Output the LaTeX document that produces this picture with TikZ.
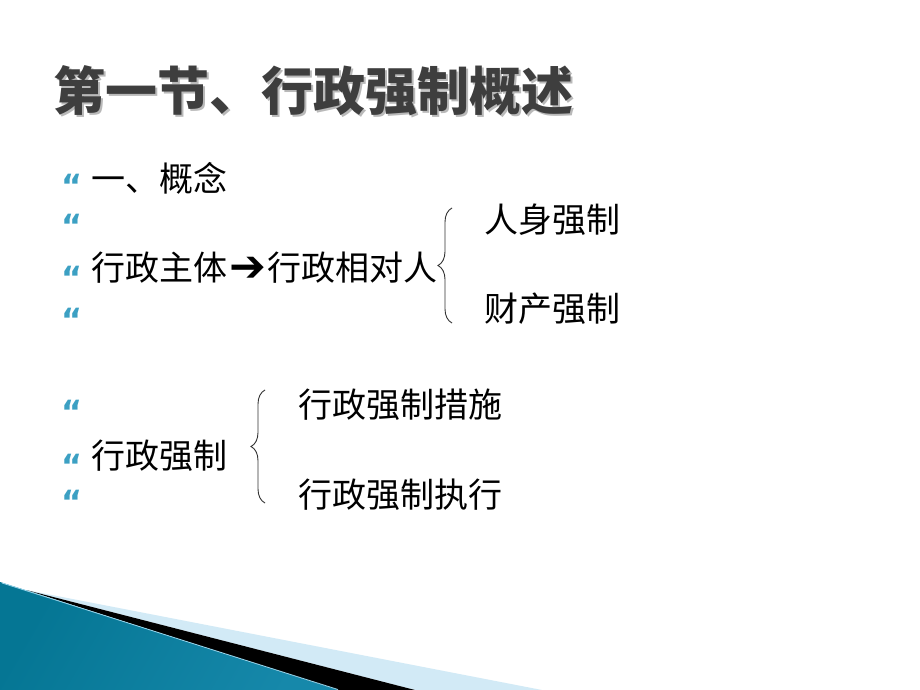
\documentclass[tikz,border=0pt]{standalone}
\usepackage{fontspec}
\setmainfont{Noto Sans CJK SC}
\newfontfamily\djv{DejaVu Sans}
\usetikzlibrary{decorations.pathreplacing}
\definecolor{titlec}{RGB}{62,62,62}
\definecolor{shadowc}{RGB}{185,185,185}
\definecolor{bulletc}{RGB}{60,160,195}
\definecolor{tealdark}{RGB}{5,118,148}
\definecolor{teallight}{RGB}{80,182,212}
\definecolor{tealmid}{RGB}{22,136,170}
\definecolor{stripec}{RGB}{210,234,246}
\definecolor{edgec}{RGB}{150,212,235}
\definecolor{bracec}{RGB}{50,50,50}
\newcommand{\titlestr}{第一节、行政强制概述}
\tikzset{
  titletext/.style={anchor=west, inner sep=0pt, font=\bfseries\fontsize{52}{60}\selectfont},
  bodytext/.style={anchor=west, inner sep=0pt, font=\fontsize{34}{40}\selectfont, text=black},
  bul/.style={anchor=base, inner sep=0pt, text=bulletc, font=\djv\bfseries\fontsize{32}{32}\selectfont},
  bracedeco/.style={draw=bracec, line width=0.9pt, decorate, decoration={brace, amplitude=14pt}},
}
\begin{document}
\begin{tikzpicture}[x=1pt, y=-1pt]
\useasboundingbox (0,0) rectangle (920,690);
\fill[white] (0,0) rectangle (920,690);
% bottom decoration
\fill[stripec] (26,590) -- (542,690) -- (415,690) -- cycle;
\fill[black] (26,590) -- (415,690) -- (338,690) -- cycle;
\shade[left color=tealdark, middle color=teallight, right color=tealmid, shading angle=60]
  (0,582) -- (338,690) -- (0,690) -- cycle;
\draw[edgec, line width=0.8pt] (2,583) -- (338,689.5);
% title with soft shadow
\node[titletext, text=titlec] (title) at (53,92)
  {\rlap{\hspace{2.5pt}\raisebox{-2.5pt}{\color{shadowc}\titlestr}}\titlestr};
% bullets
\foreach \yy [count=\i] in {176,216,268,310,402,456,492}
  \node[bul] (b\i) at (72,\yy+21) {“};
% body text
\node[bodytext] (concept) at (91,178) {一、概念};
\node[bodytext] (subject) at (91,268) {行政主体\hspace{2pt}\raisebox{-1pt}{\djv\fontsize{44}{44}\selectfont ➔}\hspace{1pt}行政相对人};
\node[bodytext] (person) at (484,220) {人身强制};
\node[bodytext] (property) at (484,309) {财产强制};
\node[bodytext] (coerce) at (91,456) {行政强制};
\node[bodytext] (measure) at (298,405) {行政强制措施};
\node[bodytext] (execute) at (298,495) {行政强制执行};
% braces
\coordinate (bra1top) at (452,208);
\coordinate (bra1bot) at (452,323);
\coordinate (bra2top) at (265,390);
\coordinate (bra2bot) at (265,503);
\draw[bracedeco] (bra1bot) -- (bra1top);
\draw[bracedeco] (bra2bot) -- (bra2top);
\end{tikzpicture}
\end{document}
